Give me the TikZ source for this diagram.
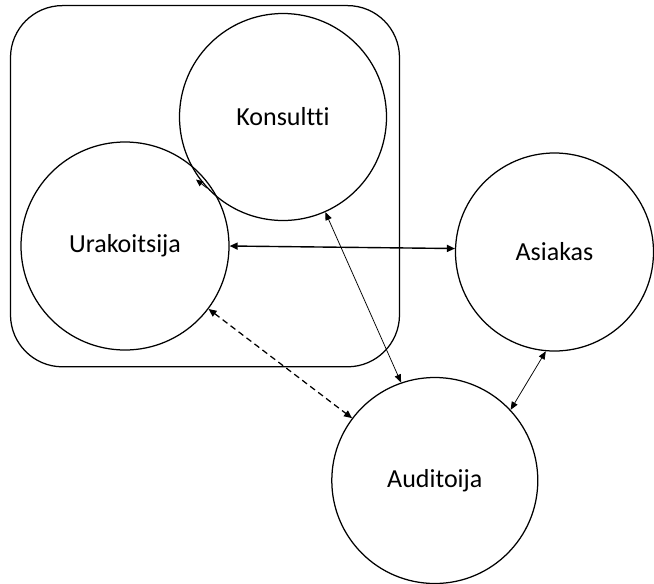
\documentclass[tikz,border=0pt]{standalone}
\usepackage{fontspec}
\setmainfont[Ligatures=NoCommon]{Carlito}
\usetikzlibrary{arrows.meta}
\begin{document}
\begin{tikzpicture}[x=1pt,y=-1pt,
  party/.style={circle,draw,line width=1.25pt,inner sep=0pt,minimum size=#1,
    font=\fontsize{26}{30}\selectfont},
  group/.style={draw,line width=1.25pt,rounded corners=52pt},
  thicklink/.style={line width=1.4pt,{Triangle[length=8pt,width=7pt]}-{Triangle[length=8pt,width=7pt]}},
  thinlink/.style={line width=0.75pt,{Triangle[length=8pt,width=6.5pt]}-{Triangle[length=8pt,width=6.5pt]}},
  dashlink/.style={line width=1.25pt,dash pattern=on 6pt off 4pt,{Triangle[length=8pt,width=7pt]}-{Triangle[length=8pt,width=7pt]}},
  stub/.style={line width=0.75pt,-{Triangle[length=7pt,width=6pt]}}
]
\useasboundingbox (0,0) rectangle (654,584);

% organisation boundary around contractor and consultant
\draw[group] (10.5,5.6) rectangle (399.5,366.8);

% parties
\node[party=207pt] (konsultti)   at (283,117)   {Konsultti};
\node[party=208pt] (urakoitsija) at (125,246)   {Urakoitsija};
\node[party=198pt] (asiakas)     at (554.5,252) {Asiakas};
\node[party=206pt] (auditoija)   at (434.8,480.5) {Auditoija};

% relations
\draw[thicklink] (urakoitsija.east) -- (asiakas.178);
\draw[thinlink]  (konsultti.294) -- (auditoija.109);
\draw[dashlink]  (urakoitsija.323) -- (auditoija.143);
\draw[thinlink]  (asiakas.265) -- (auditoija.43);

% short link where consultant and contractor overlap
\coordinate (ktip) at (196,179.5);
\draw[stub] (konsultti.223) -- (ktip);
\end{tikzpicture}
\end{document}
